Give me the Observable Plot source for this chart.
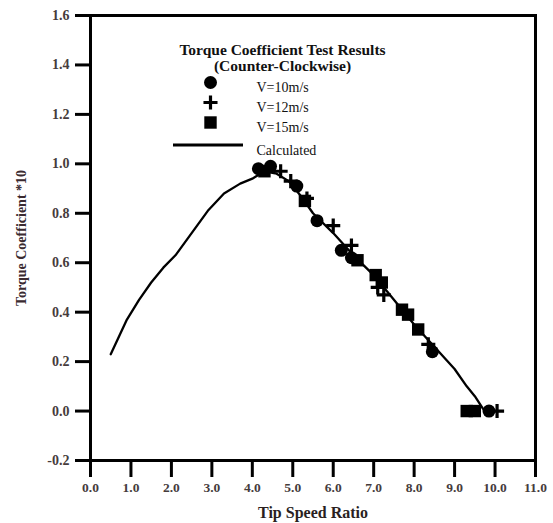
<!DOCTYPE html>
<html>
<head>
<meta charset="utf-8">
<script src="https://cdn.jsdelivr.net/npm/d3@7"></script>
<script src="https://cdn.jsdelivr.net/npm/@observablehq/plot@0.6"></script>
<style>
  html, body { margin: 0; padding: 0; background: #fff; }
  #chart svg { display: block; }
  #chart g[aria-label="x-axis tick"], #chart g[aria-label="y-axis tick"],
  #chart g[aria-label="x-axis tick"] path, #chart g[aria-label="y-axis tick"] path {
    stroke-width: 3px !important; stroke: #000 !important;
  }
</style>
</head>
<body>
<div id="chart"></div>
<script>
// Calculated curve
const calcX = [0.5, 0.9, 1.2, 1.5, 1.8, 2.1, 2.5, 2.9, 3.3, 3.7, 4.0, 4.3, 4.6, 4.9, 5.2, 5.5, 6.0, 6.5, 7.0, 7.5, 8.0, 8.5, 9.0, 9.3, 9.5, 9.7];
const calcY = [0.23, 0.37, 0.45, 0.52, 0.58, 0.63, 0.72, 0.81, 0.88, 0.92, 0.94, 0.97, 0.96, 0.93, 0.87, 0.80, 0.72, 0.63, 0.55, 0.45, 0.35, 0.26, 0.17, 0.10, 0.06, 0.01];

// Test results
const v10X = [4.15, 4.45, 5.1, 5.6, 6.2, 6.45, 8.45, 9.85];
const v10Y = [0.98, 0.99, 0.91, 0.77, 0.65, 0.62, 0.24, 0.0];
const v12X = [4.7, 4.95, 5.35, 6.0, 6.45, 7.1, 7.25, 8.35, 10.05];
const v12Y = [0.97, 0.93, 0.86, 0.75, 0.67, 0.50, 0.47, 0.27, 0.0];
const v15X = [4.3, 5.3, 6.6, 7.05, 7.2, 7.7, 7.85, 8.1, 9.3, 9.5];
const v15Y = [0.97, 0.85, 0.61, 0.55, 0.52, 0.41, 0.39, 0.33, 0.0, 0.0];

// Ticks and text
const xTicks = [0, 1, 2, 3, 4, 5, 6, 7, 8, 9, 10, 11];
const yTicks = [-0.2, 0.0, 0.2, 0.4, 0.6, 0.8, 1.0, 1.2, 1.4, 1.6];
const xLabel = "Tip Speed Ratio";
const yLabel = "Torque Coefficient *10";
const legendTitle = ["Torque Coefficient Test Results", "(Counter-Clockwise)"];
const legendLabels = ["V=10m/s", "V=12m/s", "V=15m/s", "Calculated"];
const legendSymbols = ["circle", "plus", "square"];

const calc = calcX.map((x, i) => ({x, y: calcY[i]}));
const s10 = v10X.map((x, i) => ({x, y: v10Y[i]}));
const s12 = v12X.map((x, i) => ({x, y: v12Y[i]}));
const s15 = v15X.map((x, i) => ({x, y: v15Y[i]}));

const font = "Liberation Serif, Times New Roman, serif";
const tickColor = "#463c3c";

const symStyle = {
  circle: {fill: "black", r: 6.5},
  plus: {stroke: "black", strokeWidth: 3.2, r: 4.6, fill: "none"},
  square: {fill: "black", r: 7}
};

const legendMarks = [];
legendSymbols.forEach((s, i) => {
  legendMarks.push(Plot.dot([0], {frameAnchor: "top-left", dx: 120, dy: 67 + 20 * i, symbol: s, ...symStyle[s]}));
});
legendLabels.forEach((t, i) => {
  legendMarks.push(Plot.text([t], {frameAnchor: "top-left", dx: 166, dy: 67 + 20 * i + (i === 3 ? 3 : 0), textAnchor: "start", fontSize: 14, fill: "#111", text: d => d}));
});
legendTitle.forEach((t, i) => {
  legendMarks.push(Plot.text([t], {frameAnchor: "top-left", dx: 192, dy: 28 + 16 * i, textAnchor: "middle", fontSize: 15.5, fontWeight: "bold", fill: "#111", text: d => d}));
});
// legend line sample
legendMarks.push((index, scales, values, dims) => {
  const g = d3.create("svg:g");
  g.append("line")
    .attr("x1", dims.marginLeft + 83).attr("x2", dims.marginLeft + 153)
    .attr("y1", dims.marginTop + 130).attr("y2", dims.marginTop + 130)
    .attr("stroke", "black").attr("stroke-width", 3);
  return g.node();
});

const chart = Plot.plot({
  width: 553,
  height: 523,
  marginLeft: 90,
  marginRight: 18,
  marginTop: 15,
  marginBottom: 63,
  style: {fontFamily: font, background: "white"},
  x: {domain: [0, 11]},
  y: {domain: [-0.2, 1.6]},
  marks: [
    Plot.axisX({ticks: xTicks, tickFormat: d => d.toFixed(1), tickSize: 17, tickPadding: 5, strokeWidth: 3, fontSize: 13.5, fontWeight: "bold", fill: tickColor,
      label: xLabel, labelAnchor: "center", labelArrow: "none", labelOffset: 57}),
    Plot.axisY({ticks: yTicks, tickFormat: d => d.toFixed(1), tickSize: 15, tickPadding: 6, strokeWidth: 3, fontSize: 14, fontWeight: "bold", fill: tickColor,
      label: yLabel, labelAnchor: "center", labelArrow: "none", labelOffset: 74}),
    Plot.frame({stroke: "black", strokeWidth: 3}),
    Plot.line(calc, {x: "x", y: "y", stroke: "black", strokeWidth: 2.3}),
    Plot.dot(s15, {x: "x", y: "y", symbol: "square", ...symStyle.square}),
    Plot.dot(s10, {x: "x", y: "y", symbol: "circle", ...symStyle.circle}),
    Plot.dot(s12, {x: "x", y: "y", symbol: "plus", ...symStyle.plus}),
    ...legendMarks
  ]
});
// bold dark axis labels
d3.select(chart).select("[aria-label='x-axis label']").selectAll("text")
  .attr("font-weight", "bold").attr("fill", "#2a1f1f").attr("font-size", 16);
d3.select(chart).select("[aria-label='y-axis label']").selectAll("text")
  .attr("font-weight", "bold").attr("fill", "#3a2a30").attr("font-size", 14);
document.getElementById("chart").appendChild(chart);
</script>
</body>
</html>
